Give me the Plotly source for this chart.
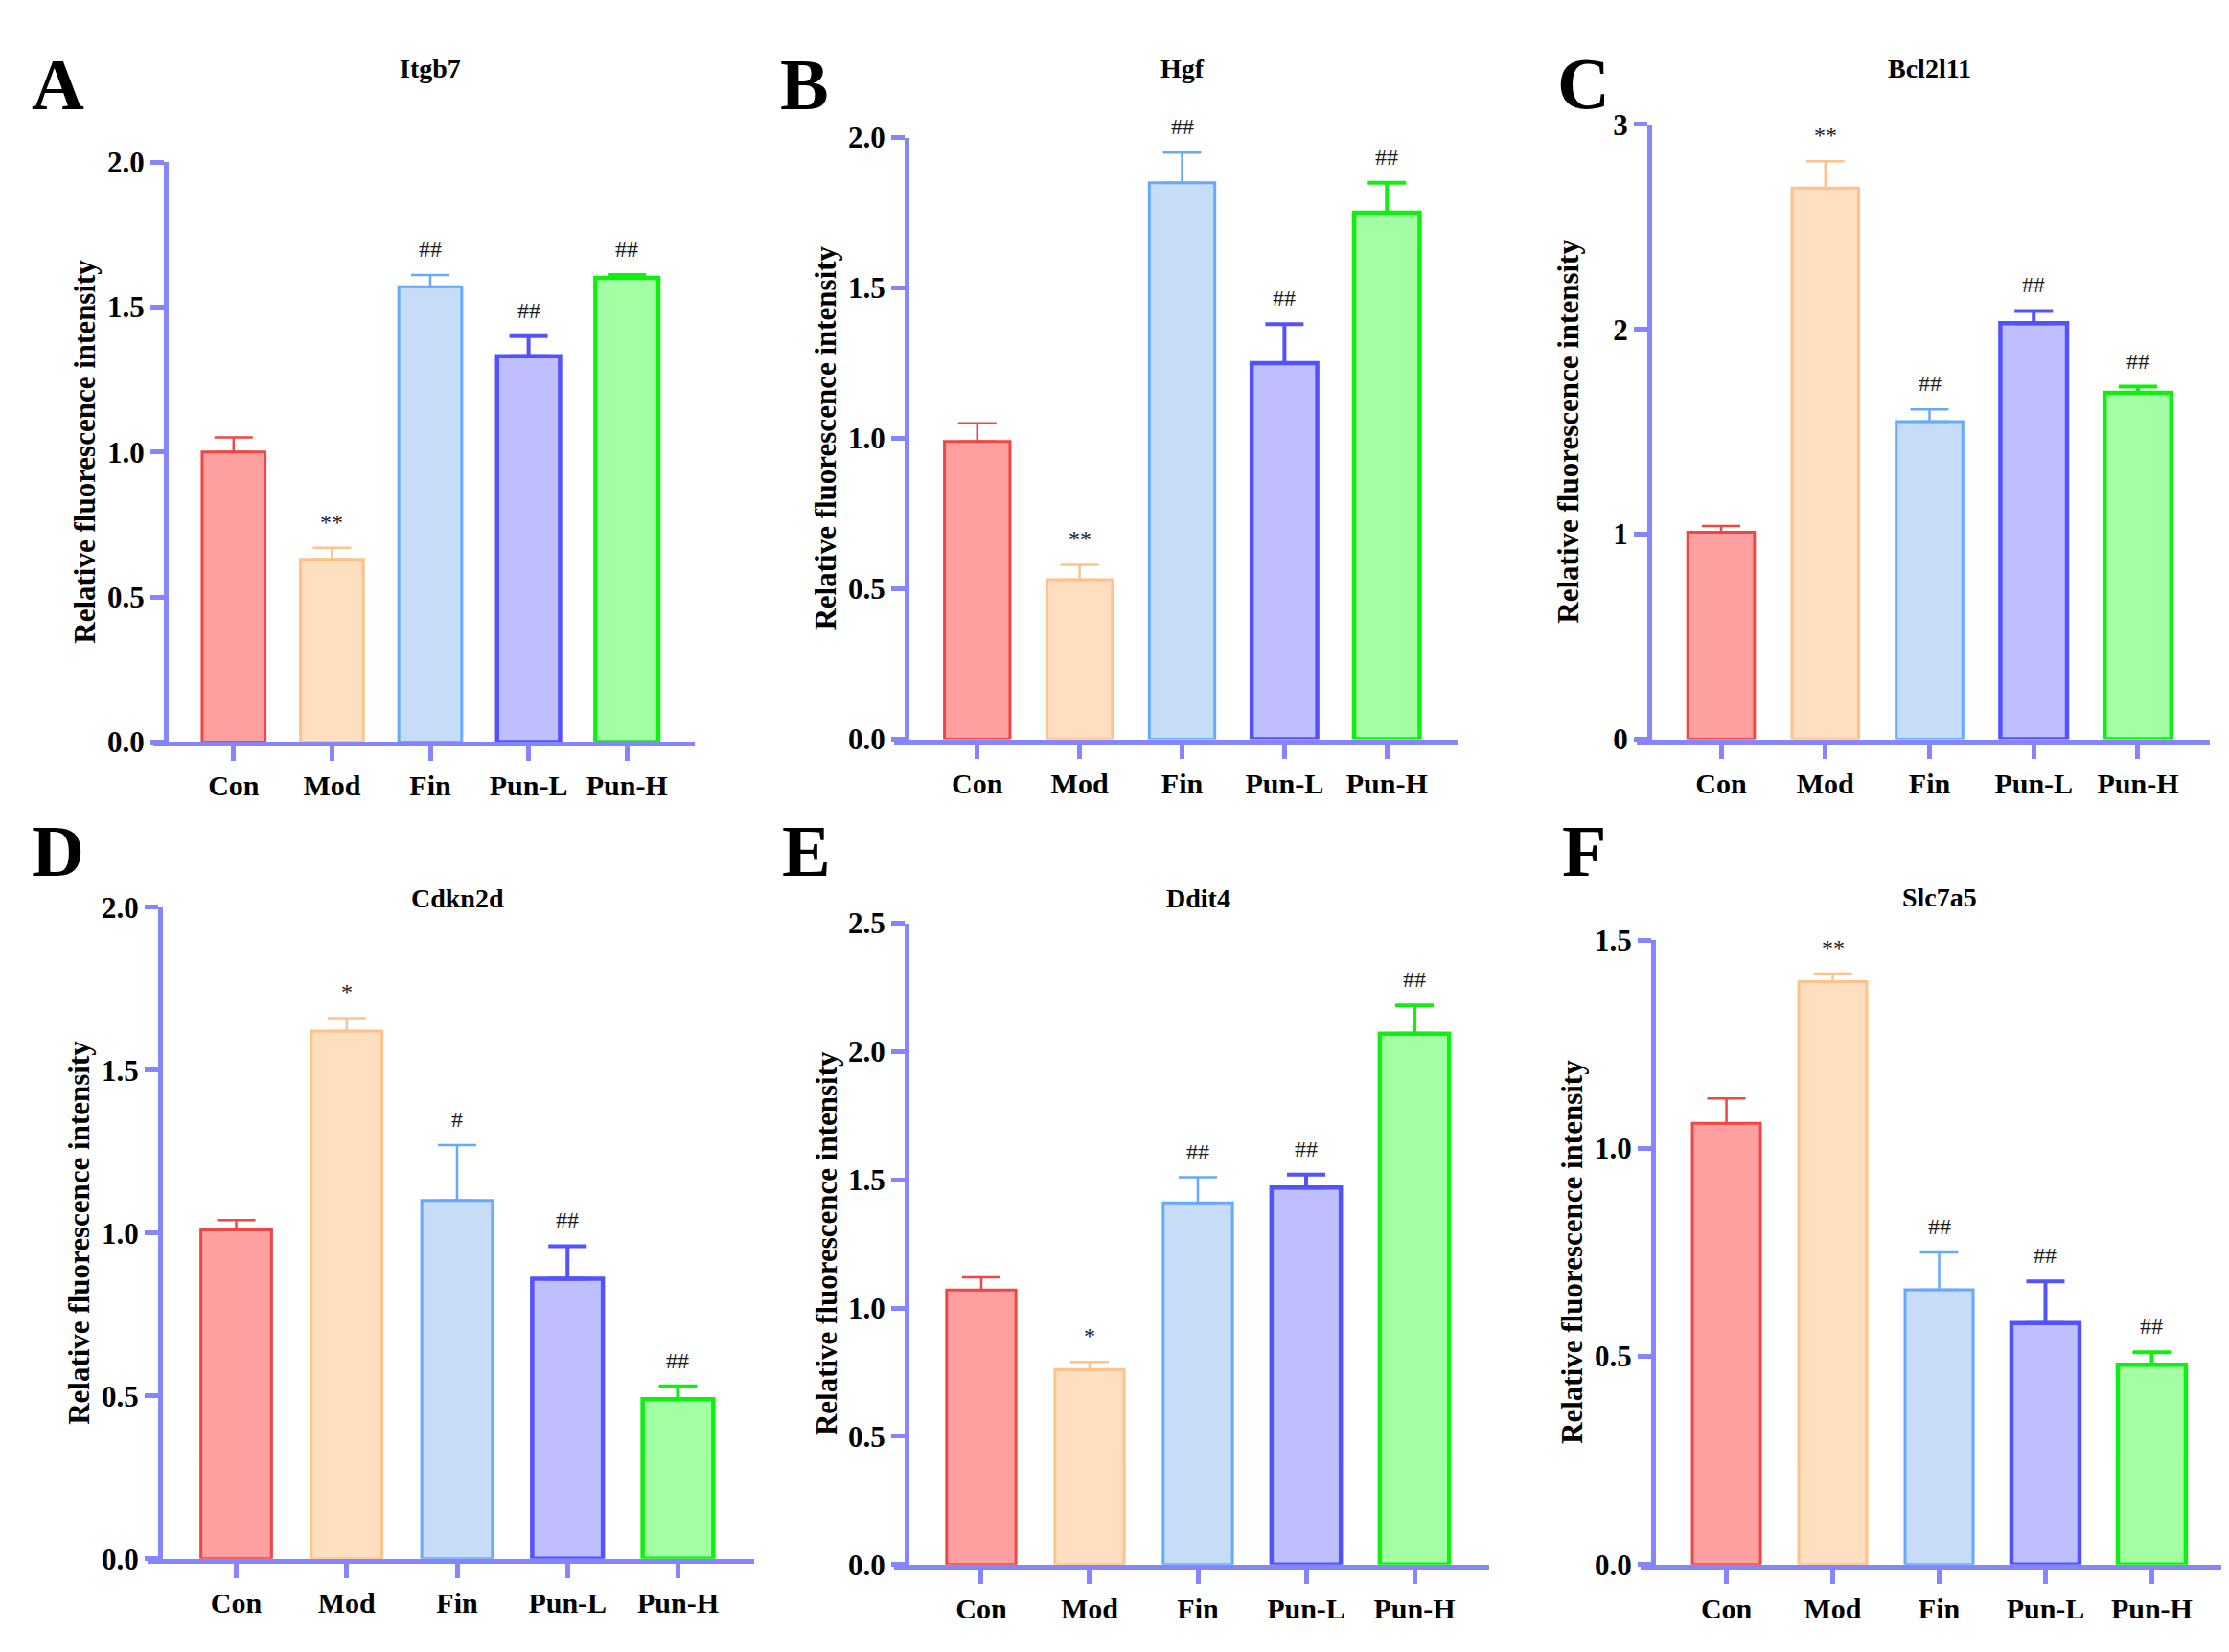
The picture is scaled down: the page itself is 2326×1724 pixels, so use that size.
import plotly.graph_objects as go

W, H = 2326, 1724

groups = ['Con', 'Mod', 'Fin', 'Pun-L', 'Pun-H']

# mean values and upper error (SD) per panel
itgb7 = [1.00, 0.63, 1.57, 1.33, 1.60]
itgb7_err = [0.05, 0.04, 0.04, 0.07, 0.01]
hgf = [0.99, 0.53, 1.85, 1.25, 1.75]
hgf_err = [0.06, 0.05, 0.10, 0.13, 0.10]
bcl2l11 = [1.01, 2.69, 1.55, 2.03, 1.69]
bcl2l11_err = [0.03, 0.13, 0.06, 0.06, 0.03]
cdkn2d = [1.01, 1.62, 1.10, 0.86, 0.49]
cdkn2d_err = [0.03, 0.04, 0.17, 0.10, 0.04]
ddit4 = [1.07, 0.76, 1.41, 1.47, 2.07]
ddit4_err = [0.05, 0.03, 0.10, 0.05, 0.11]
slc7a5 = [1.06, 1.40, 0.66, 0.58, 0.48]
slc7a5_err = [0.06, 0.02, 0.09, 0.10, 0.03]

sig_itgb7 = ['', '**', '##', '##', '##']
sig_hgf = ['', '**', '##', '##', '##']
sig_bcl2l11 = ['', '**', '##', '##', '##']
sig_cdkn2d = ['', '*', '#', '##', '##']
sig_ddit4 = ['', '*', '##', '##', '##']
sig_slc7a5 = ['', '**', '##', '##', '##']

fills = ['#FFA0A0', '#FFDFBF', '#C6DCF7', '#BFBFFF', '#A3FFA3']
edges = ['#F24545', '#FFC28A', '#66AAFF', '#5252FF', '#10F010']
edge_w = [3, 3, 3, 4.5, 4.5]
axis_col = '#8585FF'
serif = 'Liberation Serif'

# panel: letter, title, values, errors, marks, ymax, ytick step, tick fmt,
# pixel box (y axis x, x axis end, top, bottom), letter pos, title y
panels = [
    ('A', 'Itgb7', itgb7, itgb7_err, sig_itgb7, 2.0, 0.5, '.1f',
     (165, 717, 147, 765), (52, 64), 47),
    ('B', 'Hgf', hgf, hgf_err, sig_hgf, 2.0, 0.5, '.1f',
     (938, 1513, 121, 762), (831, 64), 47),
    ('C', 'Bcl2l11', bcl2l11, bcl2l11_err, sig_bcl2l11, 3, 1, 'd',
     (1713, 2298, 107, 762), (1644, 63), 47),
    ('D', 'Cdkn2d', cdkn2d, cdkn2d_err, sig_cdkn2d, 2.0, 0.5, '.1f',
     (159, 779, 941, 1635), (52, 881), 931),
    ('E', 'Ddit4', ddit4, ddit4_err, sig_ddit4, 2.5, 0.5, '.1f',
     (938, 1546, 958, 1641), (833, 881), 931),
    ('F', 'Slc7a5', slc7a5, slc7a5_err, sig_slc7a5, 1.5, 0.5, '.1f',
     (1717, 2314, 976, 1641), (1645, 881), 930),
]

fig = go.Figure()
annotations = []
lo, hi = -0.69, 4.69
overhang = 13  # x axis line sticks out left of the y axis

for k, (letter, title, vals, errs, marks, ymax, step, fmt, box, lpos, ty) in enumerate(panels):
    n = '' if k == 0 else str(k + 1)
    xa, ya = 'x' + n, 'y' + n
    left, right, top, bottom = box
    lo2 = lo - overhang * (hi - lo) / (right - left)
    fig.layout['xaxis' + n] = dict(
        domain=[(left - overhang) / W, right / W], range=[lo2, hi], anchor=ya,
        tickvals=list(range(5)), ticktext=groups,
        showline=True, linecolor=axis_col, linewidth=5,
        ticks='outside', ticklen=15, tickwidth=5, tickcolor=axis_col,
        tickfont=dict(family=serif, size=30, color='black', weight='bold'),
        showgrid=False, zeroline=False, fixedrange=True)
    fig.layout['yaxis' + n] = dict(
        domain=[1 - bottom / H, 1 - top / H], range=[0, ymax],
        anchor='free', position=left / W,
        tick0=0, dtick=step, tickformat=fmt,
        showline=True, linecolor=axis_col, linewidth=5,
        ticks='outside', ticklen=14, tickwidth=5, tickcolor=axis_col,
        tickfont=dict(family=serif, size=31, color='black', weight='bold'),
        showgrid=False, zeroline=False, fixedrange=True)

    for i in range(5):
        fig.add_trace(go.Bar(
            x=[i], y=[vals[i]], width=0.64, xaxis=xa, yaxis=ya,
            marker=dict(color=fills[i], line=dict(color=edges[i], width=edge_w[i])),
            error_y=dict(type='data', symmetric=False, array=[errs[i]], arrayminus=[0],
                         color=edges[i], thickness=edge_w[i] - 0.5, width=20),
            showlegend=False, hoverinfo='skip'))
        if marks[i]:
            annotations.append(dict(
                x=i, y=vals[i] + errs[i], xref=xa, yref=ya, text=marks[i],
                showarrow=False, yanchor='bottom', yshift=12,
                font=dict(family=serif, size=24, color='#1a1a1a')))

    # panel letter, gene title, y axis title
    annotations.append(dict(
        x=lpos[0] / W, y=1 - lpos[1] / H, xref='paper', yref='paper', text=letter,
        showarrow=False, xanchor='center', yanchor='middle',
        font=dict(family=serif, size=76, color='black', weight='bold')))
    annotations.append(dict(
        x=(left + right) / 2 / W, y=1 - ty / H, xref='paper', yref='paper', text=title,
        showarrow=False, xanchor='center', yanchor='middle',
        font=dict(family=serif, size=28, color='black', weight='bold')))
    annotations.append(dict(
        x=(left - 84) / W, y=1 - (top + bottom) / 2 / H, xref='paper', yref='paper',
        text='Relative fluorescence intensity', textangle=-90,
        showarrow=False, xanchor='center', yanchor='middle',
        font=dict(family=serif, size=31, color='black', weight='bold')))

fig.update_layout(
    width=W, height=H, margin=dict(l=0, r=0, t=0, b=0),
    plot_bgcolor='white', paper_bgcolor='white',
    barmode='overlay', annotations=annotations)

fig.write_html("out.html")
